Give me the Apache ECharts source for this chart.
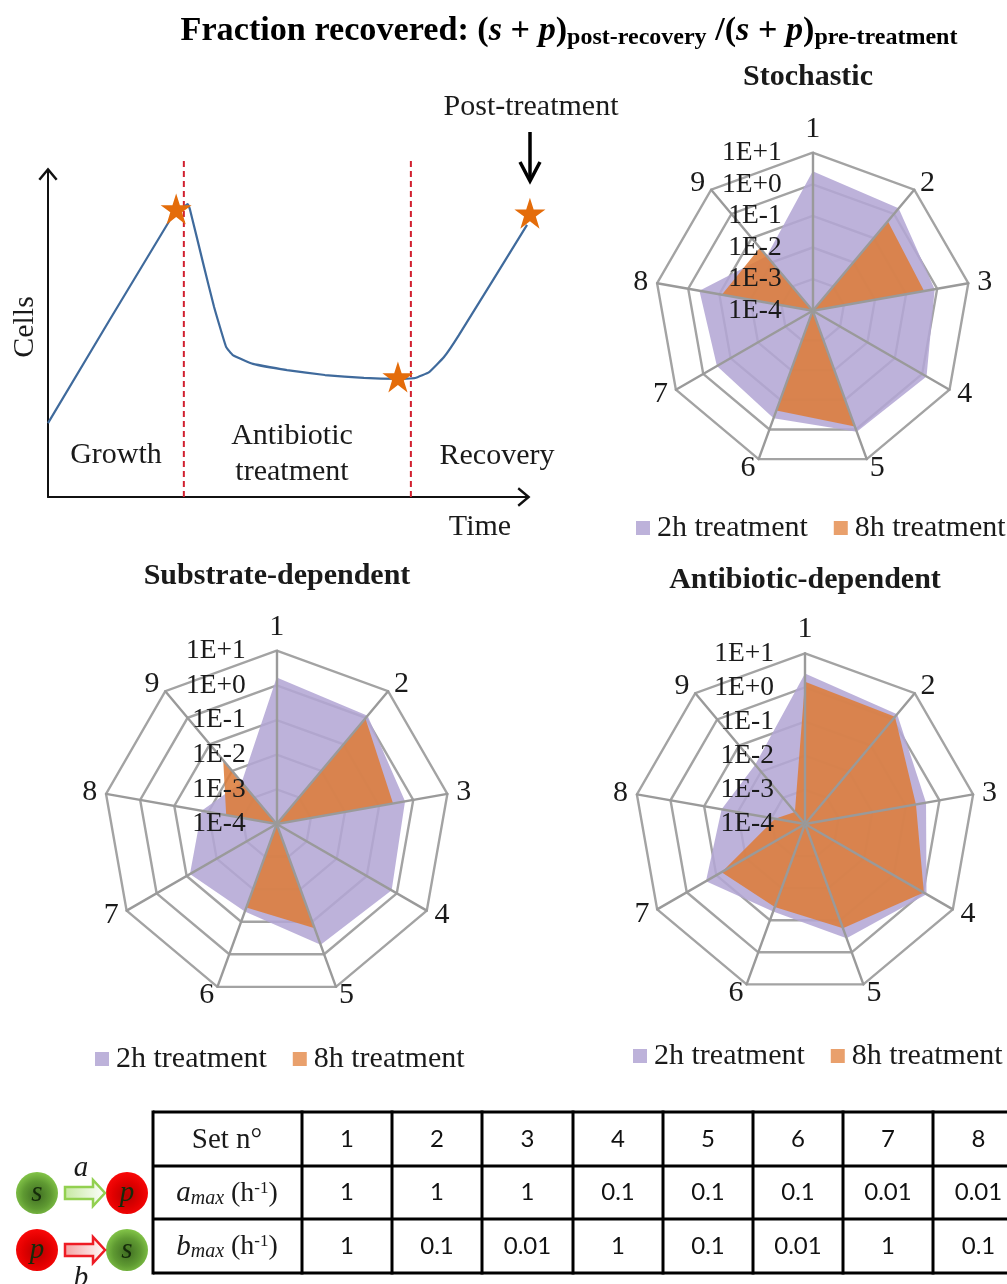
<!DOCTYPE html>
<html><head><meta charset="utf-8">
<style>html,body{margin:0;padding:0;background:#fff}#c{width:1007px;height:1284px}</style>
<script src="https://cdn.jsdelivr.net/npm/echarts@6/dist/echarts.min.js"></script>
</head><body><div id="c"></div>
<script>
// log10(fraction recovered) per parameter set 1..9
const setNames = ['1','2','3','4','5','6','7','8','9'];
const tickLabels = ['1E-4','1E-3','1E-2','1E-1','1E+0','1E+1'];
const stochastic2h = [0.41,0.23,-0.08,0.16,0.08,-0.38,-0.5,-0.36,-1.74];
const stochastic8h = [-4,-0.3,-0.42,-4,-0.1,-0.64,-4,-1.08,-1.4];
const substrate2h = [0.23,0.08,-0.24,-0.17,-0.29,-1.31,-1.11,-1.8,-2.43];
const substrate8h = [-4,-0.02,-0.59,-4,-0.8,-1.44,-4,-2.52,-1.6];
const antibiotic2h = [0.41,0.2,-0.4,0.11,-0.44,-1.27,-0.65,-1.52,-1.73];
const antibiotic8h = [0.17,0.1,-0.7,0.02,-0.75,-1.41,-1.18,-3.11,-3.54];

// schematic growth curve
const curveTime = [0,25.4,29.1,29.6,32.3,34.6,37.1,38.5,42.7,49.8,57.7,65.8,72.9,76.5,79.4,82.5,85.6,99.8];
const curveCells = [22.6,84.7,89.6,87.8,71.6,58.1,45.9,43.4,40.7,38.8,37.3,36.4,36.1,36.4,38.2,42.8,49.5,83.2];
const starTime = [26.7,72.9,100.4];
const starCells = [88.1,36.7,86.8];
const phaseBounds = [28.3,75.6];

// table
const tableSets = ['1','2','3','4','5','6','7','8'];
const tableA = ['1','1','1','0.1','0.1','0.1','0.01','0.01'];
const tableB = ['1','0.1','0.01','1','0.1','0.01','1','0.1'];

const SERIF = '"Liberation Serif","Times New Roman",serif';
const INK = '#1a1a1a', RING = '#a3a3a3', PURPLE = '#bdb2da', ORANGE = '#e9a06c';
const AMIN = -4, AMAX = 1;

// the radar runs counter-clockwise, the figure clockwise from set 1
const order = setNames.map((_,i) => (setNames.length - i) % setNames.length);
const cw = arr => order.map(i => arr[i]);

const panels = [
  {c:[812.7,310.7], r:158,   a:stochastic2h, b:stochastic8h, lx:636, ly:513},
  {c:[276.7,824],   r:173.3, a:substrate2h,  b:substrate8h,  lx:95,  ly:1044},
  {c:[805,824],     r:170.7, a:antibiotic2h, b:antibiotic8h, lx:633, ly:1041}
];

const chart = echarts.init(document.getElementById('c'), null, {renderer:'canvas'});

// rings below the fills
const radarBelow = panels.map(p => ({
  center:p.c, radius:p.r, startAngle:90, shape:'polygon', splitNumber:5, z:0,
  axisName:{show:false}, axisLine:{show:false}, axisTick:{show:false},
  splitLine:{lineStyle:{color:RING, width:2.4}}, splitArea:{show:false},
  indicator:cw(setNames).map(n => ({name:n, min:AMIN, max:AMAX}))
}));
// spokes, set numbers and tick labels above the fills
const radarAbove = panels.map(p => ({
  center:p.c, radius:p.r, startAngle:90, shape:'polygon', splitNumber:5, z:10,
  axisNameGap:9,
  axisName:{color:INK, fontFamily:SERIF, fontSize:30},
  axisLine:{lineStyle:{color:'#9a9a9a', width:2.4}}, axisTick:{show:false},
  splitLine:{show:false}, splitArea:{show:false},
  indicator:cw(setNames).map((n,i) => {
    const ind = {name:n, min:AMIN, max:AMAX};
    if (i === 0) ind.axisLabel = {
      show:true, margin:31, color:INK, fontFamily:SERIF, fontSize:27.5, padding:[4,0,0,0],
      showMinLabel:true, showMaxLabel:true, hideOverlap:false,
      formatter:v => tickLabels[Math.round(v) - AMIN]
    };
    return ind;
  })
}));

const series = [];
panels.forEach((p,i) => {
  series.push({type:'radar', radarIndex:i, name:'2h treatment', symbol:'none', silent:true, z:2,
    itemStyle:{color:PURPLE}, lineStyle:{width:0}, areaStyle:{color:'#b3a6d5', opacity:.87},
    data:[{value:cw(p.a)}]});
  series.push({type:'radar', radarIndex:i, name:'8h treatment', symbol:'none', silent:true, z:3,
    itemStyle:{color:ORANGE}, lineStyle:{width:0}, areaStyle:{color:'#dc7c3a', opacity:.87},
    data:[{value:cw(p.b)}]});
});

// schematic panel through its own axes
series.push({type:'line', xAxisIndex:0, yAxisIndex:0, smooth:.1, symbol:'none', silent:true, z:3,
  lineStyle:{color:'#3f6a9c', width:2.2}, data:curveTime.map((t,i)=>[t,curveCells[i]])});
phaseBounds.forEach(t => series.push({type:'line', xAxisIndex:0, yAxisIndex:0, symbol:'none', silent:true, clip:false, z:2,
  lineStyle:{color:'#d1202f', width:2, type:[6,4]}, data:[[t,0],[t,104]]}));
series.push({type:'scatter', xAxisIndex:0, yAxisIndex:0, silent:true, clip:false, z:5,
  symbol:'path://M50 0 L62 36 L100 36 L69 58 L81 95 L50 72 L19 95 L31 58 L0 36 L38 36 Z',
  symbolSize:31, itemStyle:{color:'#e46c0a', opacity:1}, data:starTime.map((t,i)=>[t,starCells[i]])});

const chevron = 'path://M0 12 L10 0 L20 12 L18 13.5 L10 4 L2 13.5 Z';
const axisCommon = {
  type:'value', min:0, max:100, splitLine:{show:false}, axisTick:{show:false}, axisLabel:{show:false},
  axisLine:{show:true, lineStyle:{color:'#111', width:2}, symbol:['none',chevron], symbolSize:[24,13], symbolOffset:[0,-4]}
};

const g = [];
const txt = (x,y,text,size,extra={}) => g.push({type:'text', x, y, silent:true, z:20, rotation:extra.rotation||0,
  style:Object.assign({text, fill:INK, font:`${extra.weight||'normal'} ${size}px ${SERIF}`, align:'center', verticalAlign:'middle'}, extra.style||{})});

// main title
g.push({type:'text', x:569, y:31, silent:true, z:20, style:{
  text:'{b|Fraction recovered: (}{i|s}{b| + }{i|p}{b|)}{s|post-recovery}{b| /(}{i|s}{b| + }{i|p}{b|)}{s|pre-treatment}',
  align:'center', verticalAlign:'middle',
  rich:{
    b:{font:`bold 34.2px ${SERIF}`, fill:'#000', lineHeight:40, verticalAlign:'middle'},
    i:{font:`italic bold 34.2px ${SERIF}`, fill:'#000', lineHeight:40, verticalAlign:'middle'},
    s:{font:`bold 24px ${SERIF}`, fill:'#000', lineHeight:40, padding:[14,0,0,0], verticalAlign:'middle'}
  }}});
txt(808,77,'Stochastic',30,{weight:'bold'});
txt(277,576,'Substrate-dependent',30,{weight:'bold'});
txt(805,580,'Antibiotic-dependent',30,{weight:'bold'});

// schematic labels
txt(25,327,'Cells',30,{rotation:Math.PI/2});
txt(480,527,'Time',30);
txt(116,455,'Growth',30);
txt(292,454,'Antibiotic\ntreatment',30,{style:{lineHeight:36}});
txt(497,456,'Recovery',30);
txt(531,107,'Post-treatment',30);
g.push({type:'line', silent:true, z:20, shape:{x1:530,y1:132,x2:530,y2:180}, style:{stroke:'#000', lineWidth:3.5}});
g.push({type:'polyline', silent:true, z:20, shape:{points:[[520,162],[530,181],[540,162]]}, style:{stroke:'#000', lineWidth:3.5, fill:null}});

// table
const tx = [153,302,392,482,573,663,753,843,933,1024];
const ty = [1112,1166,1219,1273];
tx.forEach(x => g.push({type:'line', silent:true, z:20, shape:{x1:x,y1:ty[0]-1.5,x2:x,y2:ty[3]+1.5}, style:{stroke:'#000', lineWidth:3}}));
ty.forEach(y => g.push({type:'line', silent:true, z:20, shape:{x1:tx[0],y1:y,x2:1007,y2:y}, style:{stroke:'#000', lineWidth:3}}));
const rowMid = [1139,1192.5,1246];
[tableSets,tableA,tableB].forEach((row,r) => row.forEach((v,i) => {
  g.push({type:'text', x:(tx[i+1]+tx[i+2])/2, y:rowMid[r], silent:true, z:20,
    style:{text:v, fill:'#111', font:'24px Lato, sans-serif', align:'center', verticalAlign:'middle'}});
}));
txt(227,1140,'Set n°',29);
[['a',1192.5],['b',1246]].forEach(([n,y]) => g.push({type:'text', x:227, y:y+1, silent:true, z:20, style:{
  text:`{i|${n}}{s|max}{r| (h}{u|-1}{r|)}`, align:'center', verticalAlign:'middle',
  rich:{
    i:{font:`italic 29px ${SERIF}`, fill:INK, lineHeight:34, verticalAlign:'middle'},
    s:{font:`italic 20px ${SERIF}`, fill:INK, lineHeight:34, padding:[10,0,0,0], verticalAlign:'middle'},
    r:{font:`28px ${SERIF}`, fill:INK, lineHeight:34, verticalAlign:'middle'},
    u:{font:`17px ${SERIF}`, fill:INK, lineHeight:34, padding:[0,0,10,0], verticalAlign:'middle'}
  }}}));

// transition key
const ball = (x,y,kind) => {
  const green = kind==='s';
  g.push({type:'circle', silent:true, z:20, shape:{cx:x,cy:y,r:21}, style:{
    fill:new echarts.graphic.RadialGradient(.5,.55,.6,[
      {offset:0,color:green?'#3f6d22':'#b40000'},{offset:.55,color:green?'#5f9a32':'#e20000'},{offset:1,color:green?'#8ccf4e':'#ff0a0a'}])}});
  txt(x,y,kind,29,{style:{font:`italic 29px ${SERIF}`, fill:'#152b0a'}});
};
const hollowArrow = (y,stroke,fill) => g.push({type:'polygon', silent:true, z:20,
  shape:{points:[[65,y-6],[93,y-6],[93,y-13],[105,y],[93,y+13],[93,y+6],[65,y+6]]},
  style:{stroke, lineWidth:2.5, fill:new echarts.graphic.LinearGradient(0,0,1,0,[{offset:0,color:fill},{offset:1,color:'#ffffff'}])}});
ball(37,1193,'s'); ball(127,1193,'p'); ball(37,1250,'p'); ball(127,1250,'s');
hollowArrow(1193,'#92d050','#c5e8a0');
hollowArrow(1250,'#ee1c25','#f4a0a0');
txt(81,1168,'a',29,{style:{font:`italic 29px ${SERIF}`}});
txt(81,1278,'b',29,{style:{font:`italic 29px ${SERIF}`}});

chart.setOption({
  animation:false,
  backgroundColor:'#fff',
  grid:{left:48, top:170, width:480, height:327},
  xAxis:Object.assign({},axisCommon),
  yAxis:Object.assign({},axisCommon),
  radar:radarAbove.concat(radarBelow),
  legend:panels.map(p => ({
    left:p.lx, top:p.ly, data:['2h treatment','8h treatment'], selectedMode:false, icon:'rect',
    itemWidth:14, itemHeight:14, itemGap:26, padding:0,
    textStyle:{fontFamily:SERIF, fontSize:30, color:INK, padding:[0,0,0,2]}
  })),
  series,
  graphic:{elements:g}
});
</script></body></html>
